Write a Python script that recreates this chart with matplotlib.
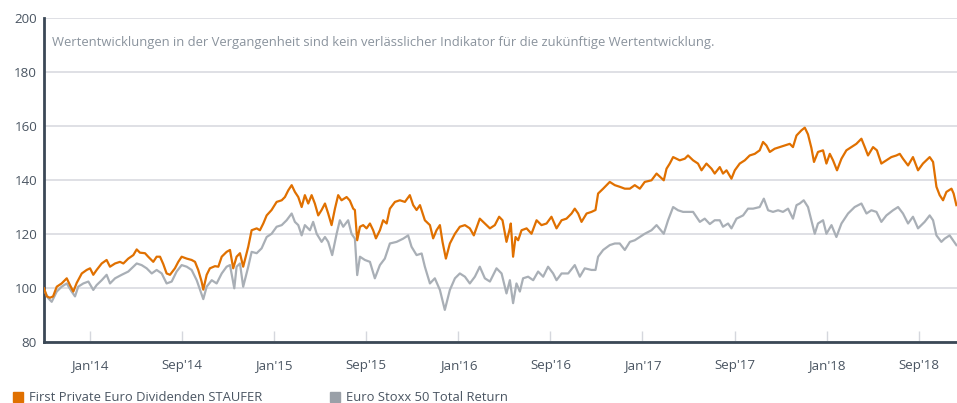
import numpy as np
import matplotlib
matplotlib.use("Agg")
import matplotlib.pyplot as plt
from matplotlib.lines import Line2D

plt.rcParams['font.family'] = ['Open Sans', 'DejaVu Sans']

# Zeitachse in Monaten ab Chartbeginn (Ende Nov 2013)
staufer_month = [
    0.0, 0.18, 0.39, 0.59, 0.83, 1.15, 1.48, 1.69, 1.91, 2.13, 2.46, 2.78, 3.0, 3.21, 3.43,
    3.76, 4.08, 4.30, 4.63, 4.95, 5.17, 5.49, 5.82, 6.04, 6.25, 6.58, 6.79, 7.12, 7.34, 7.56,
    7.77, 7.99, 8.21, 8.53, 8.75, 8.97, 9.30, 9.62, 9.84, 10.05, 10.27, 10.38, 10.60, 10.81,
    11.14, 11.36, 11.58, 11.90, 12.12, 12.33, 12.55, 12.77, 12.98, 13.31, 13.53, 13.86, 14.07,
    14.29, 14.51, 14.83, 15.16, 15.49, 15.70, 15.92, 16.14, 16.35, 16.57, 16.79, 17.0, 17.22,
    17.44, 17.65, 17.87, 18.09, 18.31, 18.52, 18.74, 18.96, 19.17, 19.39, 19.72, 19.93, 20.15,
    20.26, 20.41, 20.59, 20.80, 21.02, 21.24, 21.45, 21.63, 21.89, 22.10, 22.33, 22.54, 22.87,
    23.19, 23.52, 23.84, 24.06, 24.28, 24.50, 24.82, 25.15, 25.36, 25.58, 25.80, 25.97, 26.19,
    26.45, 26.78, 27.10, 27.43, 27.75, 28.01, 28.40, 28.73, 29.06, 29.38, 29.66, 29.88, 30.14,
    30.36, 30.42, 30.57, 30.73, 30.90, 31.12, 31.45, 31.77, 32.10, 32.42, 32.75, 33.07, 33.40,
    33.73, 34.05, 34.38, 34.59, 34.81, 35.03, 35.36, 35.68, 35.94, 36.11, 36.44, 36.87, 37.20,
    37.52, 37.85, 38.18, 38.50, 38.83, 39.15, 39.59, 39.92, 40.39, 40.57, 40.78, 41.0, 41.22,
    41.43, 41.76, 41.97, 42.30, 42.62, 42.85, 43.17, 43.50, 43.71, 44.04, 44.25, 44.48, 44.80,
    45.02, 45.34, 45.67, 45.99, 46.32, 46.64, 46.86, 47.08, 47.30, 47.62, 47.95, 48.27, 48.60,
    48.81, 49.04, 49.36, 49.58, 49.79, 50.01, 50.18, 50.44, 50.77, 50.99, 51.21, 51.42, 51.68,
    51.97, 52.29, 52.62, 52.94, 53.27, 53.49, 53.70, 54.03, 54.28, 54.57, 54.90, 55.22, 55.55,
    55.77, 55.98, 56.31, 56.63, 56.96, 57.28, 57.72, 57.94, 58.16, 58.37, 58.59, 58.81, 59.14,
    59.28, 59.46,
]
staufer = [
    100, 97, 96.5, 97, 100.6, 101.8, 103.7, 101.2, 98.8, 102, 105.5, 106.8, 107.4, 105, 106.8,
    109.2, 110.5, 108, 109.2, 109.8, 109.2, 111, 112.3, 114.4, 113.2, 113, 111.7, 109.8, 111.7, 111.7,
    109, 105.5, 105, 107.4, 109.8, 111.7, 111, 110.5, 109.8, 106.8, 102.5, 99.5, 105, 107.4,
    108.2, 108, 111.7, 113.5, 114.2, 107.4, 111.7, 113, 108, 115.4, 121.5, 122.2, 121.5,
    124, 127, 129, 132, 132.6, 133.8, 136.3, 138.2, 135.7, 133.8, 130.1, 134.5, 131.4,
    134.5, 131.4, 127, 129, 131.4, 127.7, 123.4, 129.5, 134.5, 132.6, 133.8, 132.5, 129.5,
    129, 117.8, 122.8, 123.4, 122.2, 124, 121.5, 118.5, 121.5, 125.2, 124, 129.5, 132,
    132.6, 132, 134.5, 130.8, 129, 130.8, 125.2, 123.4, 118.5, 121.5, 123.4, 117.2, 111,
    116.6, 120.2, 122.8, 123.4, 122.2, 119.6, 125.8, 124, 122.2, 123.4, 126.5, 125.2, 117.2,
    122.2, 124, 111.7, 119, 117.8, 121.5, 122.2, 120.2, 125.2, 123.4, 124, 126.5, 122.2,
    125.2, 125.8, 127.7, 129.5, 127.7, 124.6, 127.7, 128.3, 129, 135.1, 136.9, 139.4, 138.2,
    137.6, 136.9, 136.9, 138.2, 136.9, 139.4, 140, 142.5, 140, 144.3, 146.2, 148.6, 148,
    147.4, 148, 149.2, 147.4, 146.2, 143.7, 146.2, 144.3, 142.5, 144.9, 142.5, 143.7, 140.6,
    143.7, 146.2, 147.4, 149.2, 149.8, 151.1, 154.2, 152.9, 150.5, 151.7, 152.3, 152.9, 153.5,
    152.3, 156.6, 158.5, 159.5, 157, 152, 146.8, 150.5, 151.1, 146.2, 149.8, 147.4, 143.7,
    148, 151.1, 152.3, 153.5, 155.4, 152.3, 149.2, 152.3, 151.1, 146.2, 147.4, 148.6, 149.2,
    149.8, 148, 145.5, 148.6, 143.7, 146.2, 148.6, 146.8, 137.6, 134.5, 132.6, 135.7, 136.9,
    135.1, 130.8,
]

stoxx_month = [
    0.0, 0.28, 0.50, 0.83, 1.15, 1.48, 1.80, 2.02, 2.23, 2.56, 2.89, 3.21, 3.43, 3.76, 4.08,
    4.30, 4.63, 5.06, 5.49, 5.82, 6.04, 6.36, 6.69, 7.02, 7.34, 7.67, 7.99, 8.32, 8.64, 8.97,
    9.30, 9.62, 9.95, 10.38, 10.60, 10.93, 11.25, 11.58, 11.90, 12.12, 12.40, 12.55, 12.77,
    12.98, 13.31, 13.53, 13.86, 14.18, 14.51, 14.83, 15.16, 15.49, 15.81, 16.14, 16.35, 16.57,
    16.79, 17.0, 17.33, 17.54, 17.77, 18.09, 18.31, 18.52, 18.78, 19.07, 19.28, 19.50, 19.82,
    20.04, 20.26, 20.41, 20.59, 20.91, 21.24, 21.56, 21.89, 22.21, 22.54, 22.98, 23.41, 23.73,
    23.95, 24.28, 24.61, 24.82, 25.15, 25.47, 25.80, 26.12, 26.45, 26.78, 27.10, 27.43, 27.75,
    28.08, 28.40, 28.73, 29.06, 29.49, 29.82, 30.14, 30.36, 30.57, 30.79, 31.01, 31.22, 31.55,
    31.88, 32.20, 32.53, 32.85, 33.18, 33.40, 33.73, 34.16, 34.59, 34.92, 35.24, 35.68, 35.94,
    36.11, 36.44, 36.87, 37.20, 37.52, 37.85, 38.18, 38.50, 38.83, 39.15, 39.59, 39.92, 40.39,
    40.67, 41.0, 41.32, 41.65, 41.97, 42.30, 42.74, 43.06, 43.39, 43.71, 44.04, 44.25, 44.58,
    44.80, 45.13, 45.56, 45.88, 46.21, 46.64, 46.91, 47.19, 47.51, 47.84, 48.16, 48.49, 48.81,
    49.04, 49.25, 49.51, 49.79, 50.01, 50.23, 50.44, 50.77, 50.99, 51.32, 51.64, 51.97, 52.40,
    52.83, 53.27, 53.60, 53.92, 54.25, 54.57, 54.90, 55.33, 55.66, 55.98, 56.31, 56.63, 56.96,
    57.39, 57.72, 57.94, 58.16, 58.48, 58.70, 59.02, 59.24, 59.46,
]
stoxx = [
    99.4, 96.3, 95, 98.8, 100.6, 101.8, 98.8, 97, 100.6, 101.8, 102.5, 99.4, 101.2, 103, 105,
    101.8, 103.7, 105, 106.2, 108, 109.2, 108.6, 107.4, 105.5, 106.8, 105.5, 101.8, 102.5, 106.2, 108.6,
    108, 106.8, 103, 96, 100.6, 103, 101.8, 105.5, 108, 108.6, 100, 108, 109.2,
    100.6, 108, 113.5, 113, 114.8, 119, 120.2, 122.8, 123.4, 125.2, 127.7, 124.6, 123.4,
    119.6, 123.4, 121.5, 124.6, 120.2, 117.2, 119, 117.2, 112.3, 120.2, 125.2, 122.8, 125.2,
    120.2, 118.4, 104.9, 111.7, 110.5, 109.8, 103.7, 108.6, 111, 116.6, 117.2, 118.4, 119.6,
    115.4, 112.3, 112.9, 108, 101.8, 103.7, 99.4, 92, 99.4, 103.7, 105.5, 104.3, 101.8,
    104.3, 108, 103.7, 102.5, 107.4, 105.5, 98.1, 103, 94.5, 101.8, 98.8, 103.7, 104.3,
    103, 106.2, 104.3, 108, 105.5, 103, 105.5, 105.5, 108.6, 104.3, 107.4, 106.8, 106.8,
    111.7, 114.2, 116, 116.6, 116.6, 114.2, 117.2, 117.8, 119, 120.2, 121.5, 123.4, 120.2,
    125.2, 130.1, 128.9, 128.3, 128.3, 128.3, 124.6, 125.8, 123.8, 125.2, 125.2, 122.8, 124,
    122.2, 125.8, 127, 129.5, 129.5, 130.1, 133.2, 128.9, 128.3, 128.9, 128.3, 129.5, 125.8,
    130.8, 131.4, 132.6, 130.1, 125.2, 120.2, 124, 125.2, 120.2, 123.4, 119, 124, 127.7,
    130.1, 131.4, 127.7, 128.9, 128.3, 124.6, 127, 128.9, 130.1, 127.7, 124, 126.5, 122.2,
    124.6, 127, 125.2, 119.6, 117.2, 118.4, 119.6, 117.8, 116,
]

tick_months = [3, 9, 15, 21, 27, 33, 39, 45, 51, 57]
tick_labels = ["Jan'14", "Sep'14", "Jan'15", "Sep'15", "Jan'16",
               "Sep'16", "Jan'17", "Sep'17", "Jan'18", "Sep'18"]
y_ticks = [80, 100, 120, 140, 160, 180, 200]

name_fund = "First Private Euro Dividenden STAUFER"
name_index = "Euro Stoxx 50 Total Return"
hinweis = ("Wertentwicklungen in der Vergangenheit sind kein verlässlicher "
           "Indikator für die zukünftige Wertentwicklung.")

orange = '#e07000'
grau = '#a9afb6'

fig = plt.figure(figsize=(9.57, 4.03), dpi=100)
ax = fig.add_axes([0.046, 0.1506, 0.954, 0.804])

ax.plot(stoxx_month, stoxx, color=grau, lw=1.6, zorder=3)
ax.plot(staufer_month, staufer, color=orange, lw=1.6, zorder=4)

ax.set_xlim(0, 59.5)
ax.set_ylim(80, 200)
ax.set_yticks(y_ticks)
ax.set_xticks(tick_months)
ax.set_xticklabels(tick_labels)

ax.grid(axis='y', color='#dcdde3', lw=1.3)
ax.set_axisbelow(True)
for s in ['top', 'right']:
    ax.spines[s].set_visible(False)
ax.spines['left'].set_color('#3b4856')
ax.spines['left'].set_linewidth(2)
ax.spines['bottom'].set_color('#3b4856')
ax.spines['bottom'].set_linewidth(2)
ax.spines['bottom'].set_zorder(5)

ax.tick_params(axis='y', length=0, pad=5, labelsize=9.6, labelcolor='#4a5562')
ax.tick_params(axis='x', direction='in', length=8, width=1, color='#d5d7dd',
               pad=12, labelsize=9.6, labelcolor='#4a5562')

ax.text(0.009, 0.925, hinweis, transform=ax.transAxes, fontsize=9.35,
        color='#8a939d', va='center', ha='left')

handles = [
    Line2D([], [], marker='s', ls='none', color=orange, markersize=7),
    Line2D([], [], marker='s', ls='none', color='#9aa0a8', markersize=7),
]
fig.legend(handles, [name_fund, name_index], loc='lower left',
           bbox_to_anchor=(0.0, -0.032), ncol=2, frameon=False,
           fontsize=9.4, labelcolor='#4a5562', handletextpad=0.35,
           columnspacing=5.05, handlelength=1.0)

fig.savefig('out.png', dpi=100)
